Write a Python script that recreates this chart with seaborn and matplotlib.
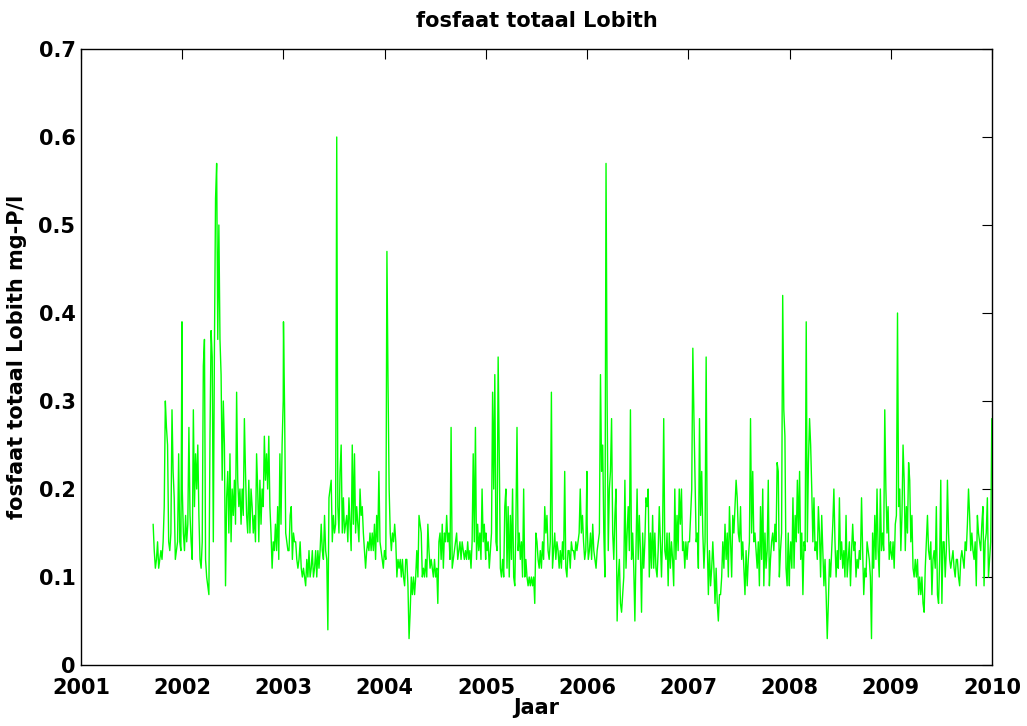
import numpy as np
import pandas as pd
import matplotlib
matplotlib.use("Agg")
import matplotlib.pyplot as plt
import seaborn as sns

# Total phosphate at Lobith in hundredths of mg-P/l, one list per calendar year
p2001 = [16, 13, 11, 12, 14, 11, 12, 13, 12, 14, 18, 30, 27, 25, 14, 13, 15, 29,
         22, 19, 12, 13, 14, 24, 14, 13, 39]
p2002 = [20, 15, 13, 17, 14, 16, 27, 17, 14, 12, 29, 18, 24, 20, 25, 17, 12, 11,
         14, 34, 37, 12, 10, 9, 8, 26, 38, 35, 14, 36, 53, 57, 37, 50, 37, 33,
         21, 30, 25, 9, 19, 22, 15, 24, 14, 20, 17, 21, 16, 31, 21, 18, 20, 16,
         20, 17, 28, 22, 17, 15, 21, 15, 20, 18, 15, 17, 14, 24, 20, 14, 21, 16,
         20, 18, 26, 21, 24, 20, 26, 18, 15, 11, 14, 13, 16, 13, 18, 12, 24, 16,
         25, 30]
p2003 = [39, 29, 15, 14, 13, 13, 17, 18, 12, 15, 14, 14, 12, 11, 12, 14, 11, 10,
         11, 10, 9, 12, 10, 13, 10, 11, 13, 10, 11, 13, 10, 13, 11, 13, 16, 13,
         12, 17, 13, 12, 4, 19, 20, 21, 14, 17, 15, 16, 60, 18, 15, 22, 25, 15,
         19, 15, 16, 17, 14, 19, 16, 13, 25, 16, 24, 15, 18, 16, 14, 20, 17, 18,
         15, 13, 11, 13, 14, 13, 15, 13, 15, 13, 16, 12, 17, 14, 22, 14, 13, 12,
         11, 13]
p2004 = [13, 12, 47, 32, 20, 15, 13, 15, 14, 16, 14, 10, 12, 11, 12, 10, 12, 10,
         9, 12, 12, 9, 3, 6, 10, 8, 10, 8, 10, 13, 10, 17, 16, 15, 10, 11,
         10, 12, 10, 16, 13, 11, 12, 11, 10, 12, 10, 11, 7, 14, 15, 12, 16, 11,
         15, 14, 17, 14, 15, 12, 27, 11, 12, 13, 14, 15, 12, 13, 14, 12, 14, 13,
         12, 13, 12, 14, 12, 13, 11, 14, 24, 14, 27, 12, 16, 13, 15, 12, 20, 14,
         16, 12]
p2005 = [15, 13, 14, 11, 13, 15, 31, 20, 33, 14, 13, 35, 24, 11, 10, 12, 10, 18,
         20, 11, 18, 10, 17, 12, 20, 10, 9, 16, 27, 13, 15, 12, 14, 10, 20, 10,
         12, 10, 9, 10, 9, 10, 9, 10, 7, 15, 14, 12, 11, 13, 11, 14, 12, 18,
         15, 17, 13, 12, 14, 31, 11, 13, 15, 12, 14, 13, 11, 13, 11, 14, 12, 22,
         11, 10, 13, 13, 11, 14, 13, 13, 12, 14, 13, 14, 15, 20, 15, 17, 14, 12,
         13, 22]
p2006 = [16, 12, 13, 15, 12, 16, 13, 12, 11, 13, 14, 15, 33, 22, 25, 15, 10, 57,
         30, 13, 20, 22, 28, 15, 12, 17, 20, 5, 10, 12, 7, 6, 8, 10, 21, 11,
         15, 18, 13, 29, 12, 15, 11, 5, 13, 20, 12, 17, 13, 6, 15, 11, 14, 19,
         18, 20, 10, 15, 11, 17, 11, 15, 11, 10, 13, 18, 14, 10, 15, 28, 13, 12,
         15, 9, 15, 11, 14, 12, 9, 20, 12, 17, 13, 20, 16, 20, 13, 14, 11, 14,
         12, 14]
p2007 = [14, 14, 17, 20, 36, 28, 21, 14, 15, 11, 28, 17, 22, 15, 11, 14, 35, 14,
         8, 13, 9, 11, 14, 11, 7, 11, 7, 5, 8, 8, 10, 14, 11, 16, 12, 15,
         10, 18, 14, 10, 17, 15, 18, 21, 19, 15, 14, 18, 12, 14, 11, 8, 13, 9,
         12, 14, 28, 15, 22, 14, 15, 13, 11, 14, 9, 18, 12, 20, 9, 15, 11, 13,
         21, 9, 12, 14, 15, 13, 16, 14, 23, 22, 10, 13, 15, 42, 29, 26, 11, 9,
         15, 9]
p2008 = [11, 14, 11, 19, 11, 17, 14, 21, 15, 22, 12, 15, 8, 14, 13, 39, 14, 23,
         28, 25, 20, 14, 19, 13, 14, 12, 18, 15, 10, 17, 13, 9, 12, 8, 3, 7,
         12, 10, 13, 16, 20, 14, 10, 13, 11, 19, 12, 14, 11, 13, 10, 17, 10, 12,
         14, 9, 13, 16, 13, 14, 10, 12, 11, 13, 12, 19, 13, 8, 11, 10, 14, 13,
         12, 10, 3, 15, 11, 17, 12, 20, 13, 10, 20, 13, 15, 13, 29, 20, 15, 18,
         12, 14]
p2009 = [13, 12, 14, 11, 16, 17, 40, 18, 20, 13, 17, 25, 21, 13, 18, 15, 23, 21,
         14, 17, 11, 10, 12, 10, 12, 8, 10, 8, 10, 7, 6, 11, 14, 17, 13, 12,
         14, 8, 12, 13, 11, 18, 8, 7, 12, 21, 7, 14, 14, 10, 13, 21, 15, 12,
         11, 12, 13, 11, 10, 12, 12, 10, 9, 12, 13, 12, 11, 14, 13, 16, 20, 17,
         13, 15, 13, 12, 14, 9, 17, 15, 14, 13, 16, 18, 9, 14, 15, 19, 10, 12,
         14, 28]

periods = [
    (p2001, "2001-09-18", "2001-12-31"),
    (p2002, "2002-01-01", "2002-12-31"),
    (p2003, "2003-01-01", "2003-12-31"),
    (p2004, "2004-01-01", "2004-12-31"),
    (p2005, "2005-01-01", "2005-12-31"),
    (p2006, "2006-01-01", "2006-12-31"),
    (p2007, "2007-01-01", "2007-12-31"),
    (p2008, "2008-01-01", "2008-12-31"),
    (p2009, "2009-01-01", "2009-12-31"),
]

year_ticks = list(range(2001, 2011))
y_ticks = [0, 0.1, 0.2, 0.3, 0.4, 0.5, 0.6, 0.7]
y_tick_labels = ["0", "0.1", "0.2", "0.3", "0.4", "0.5", "0.6", "0.7"]

frames = []
for vals, start, end in periods:
    dates = pd.date_range(start, end, periods=len(vals))
    frames.append(pd.DataFrame({"datum": dates, "fosfaat": np.array(vals) / 100.0}))
df = pd.concat(frames, ignore_index=True)
days_in_year = 365 + df["datum"].dt.is_leap_year.astype(int)
df["jaar"] = df["datum"].dt.year + (df["datum"].dt.dayofyear - 1) / days_in_year

sns.set_theme(style="white")
plt.rcParams["font.family"] = ["DejaVu Sans"]
plt.rcParams["font.weight"] = "bold"
plt.rcParams["text.color"] = "black"
plt.rcParams["axes.labelcolor"] = "black"
plt.rcParams["axes.titlecolor"] = "black"

fig = plt.figure(figsize=(10.27, 7.26), dpi=100)
ax = fig.add_axes([0.0789, 0.0840, 0.8871, 0.8485])

sns.lineplot(data=df, x="jaar", y="fosfaat", color="#00ff00", linewidth=1.0,
             estimator=None, ax=ax)

ax.set_xlim(2001, 2010)
ax.set_ylim(0, 0.7)
ax.set_xticks(year_ticks)
ax.set_xticklabels([str(y) for y in year_ticks])
ax.set_yticks(y_ticks)
ax.set_yticklabels(y_tick_labels)

ax.tick_params(axis="both", direction="in", length=7, width=0.8, color="black",
               labelsize=15, top=True, right=True, labelcolor="black")
ax.tick_params(axis="x", pad=9)
ax.tick_params(axis="y", pad=4)
for lab in ax.get_xticklabels() + ax.get_yticklabels():
    lab.set_fontweight("bold")

for side in ["left", "right", "top", "bottom"]:
    ax.spines[side].set_visible(True)
    ax.spines[side].set_color("black")
    ax.spines[side].set_linewidth(1.0)

ax.set_title("fosfaat totaal Lobith", fontsize=15, fontweight="bold", pad=16,
             color="black")
ax.set_xlabel("Jaar", fontsize=15, fontweight="bold", labelpad=0, color="black")
ax.set_ylabel("fosfaat totaal Lobith mg-P/l", fontsize=15, fontweight="bold",
              labelpad=8, color="black")
ax.grid(False)

fig.savefig("out.png", dpi=100, facecolor="white")
